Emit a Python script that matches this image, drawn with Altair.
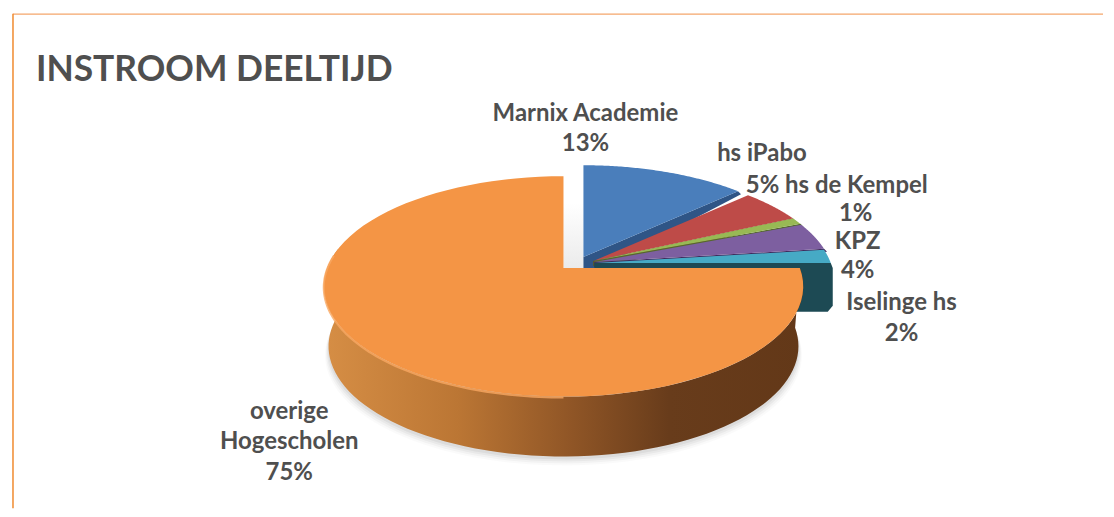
import numpy as np
import pandas as pd
import altair as alt

# ---- data ----
categories = ["Marnix Academie", "hs iPabo", "hs de Kempel", "KPZ", "Iselinge hs", "overige Hogescholen"]
shares = [13, 5, 1, 4, 2, 75]
title_text = "INSTROOM DEELTIJD"
label_texts = ["Marnix Academie", "13%", "hs iPabo", "5% hs de Kempel", "1%", "KPZ", "4%",
               "Iselinge hs", "2%", "overige", "Hogescholen", "75%"]

# ---- style / layout ----
top_colors = ["#4a7ebb", "#be4b48", "#98b954", "#7d5fa0", "#46aac5", "#f49545"]
wall_colors = ["#2f5586", "#5e2523", "#55692c", "#3f2a5c", "#1d4a54"]
apex_x = [585, 595, 595, 596, 596]
apex_y = [257, 261, 261, 262, 263]
wall_depth = [14, 5, 5, 5, 49]
label_x = [587, 587, 764, 839, 858, 860, 860, 904, 904, 290, 290, 290]
label_y = [114, 144, 154, 186, 214, 242, 271, 303, 334, 412, 443, 474]
TEXT = "#4f4f4f"
FONT = "Lato"
R, S, K = 237.0, 107.4, 0.1674
CX, CY, DEPTH = 565.0, 268.0, 60.0

X = alt.X("x:Q", scale=alt.Scale(domain=[8, 1106], nice=False, zero=False), axis=None)
Y = alt.Y("y:Q", scale=alt.Scale(domain=[509, 8], nice=False, zero=False), axis=None)


def rim(ax, ay, a, b, r=R, n=80):
    """Points of the tilted circle between pie fractions a and b, with the perspective of the picture."""
    phi = 2 * np.pi * np.linspace(a, b, n)
    u, v = np.sin(phi), -np.cos(phi)
    w = 1 - K * v
    return ax + r * u / w, ay + S * v / w


def poly(xs, ys, fill, opacity=1.0):
    df = pd.DataFrame({"x": xs, "y": ys, "i": np.arange(len(xs))})
    return alt.Chart(df).mark_line(fill=fill, stroke="transparent", strokeWidth=0, opacity=opacity).encode(
        x=X, y=Y, order=alt.Order("i:Q"))


def stroke(xs, ys, color, width, opacity=1.0):
    df = pd.DataFrame({"x": xs, "y": ys, "i": np.arange(len(xs))})
    return alt.Chart(df).mark_line(color=color, strokeWidth=width, opacity=opacity).encode(
        x=X, y=Y, order=alt.Order("i:Q"))


layers = []

# page frame
layers.append(stroke(np.array([13, 1106]), np.array([13.5, 13.5]), "#f4a66b", 1.2))
layers.append(stroke(np.array([13, 13]), np.array([13, 509]), "#f08a2e", 1.5))

# soft shadow below the pie
for grow, op in [(7, 0.02), (5, 0.03), (3, 0.04), (1, 0.05)]:
    sx, sy = rim(CX, CY + DEPTH + 2 + grow, 0.25, 0.78, r=R * 0.98 + grow * 0.5)
    layers.append(poly(sx, sy, "#000000", op))

# shaded gap between the big slice and the separated slices
gap_grad = alt.Gradient(gradient="linear", x1=0, y1=0, x2=0, y2=1,
                        stops=[alt.GradientStop(offset=0, color="#ffffff"),
                               alt.GradientStop(offset=1, color="#ebebeb")])
layers.append(poly(np.array([CX, apex_x[0], apex_x[0], CX]),
                   np.array([CY - 65, CY - 65, CY, CY]), gap_grad))

# separated slices: cut face first, then top
cum = np.cumsum([0] + shares) / 100
for k in range(5):
    a, b = cum[k], cum[k + 1]
    ax, ay, d = apex_x[k], apex_y[k], wall_depth[k]
    tx, ty = rim(ax, ay, a, b)
    ex, ey = tx[-1], ty[-1]
    if k == 4:
        layers.append(poly(np.array([ax, ex, ex + 2, ex + 2, ex - 3, ax]),
                           np.array([ay, ey, ey + 5, ey + d - 6, ey + d, ay + d]), wall_colors[k]))
    else:
        layers.append(poly(np.array([ax, ex, ex + 3, ax + 11, ax]),
                           np.array([ay, ey, ey + 3, ay + d, ay + d]), wall_colors[k]))
    layers.append(poly(np.concatenate([[ax], tx]), np.concatenate([[ay], ty]), top_colors[k]))

# big slice: wall with horizontal gradient, then top
side_grad = alt.Gradient(gradient="linear", x1=0, y1=0, x2=1, y2=0,
                         stops=[alt.GradientStop(offset=0, color="#d68e45"),
                                alt.GradientStop(offset=0.28, color="#bb7634"),
                                alt.GradientStop(offset=0.52, color="#8f5526"),
                                alt.GradientStop(offset=0.72, color="#683c1b"),
                                alt.GradientStop(offset=1, color="#633818")])
a, b = cum[5], 1.0
wx1, wy1 = rim(CX, CY, 0.25, 0.78)
wx2, wy2 = rim(CX, CY + DEPTH, 0.25, 0.78, r=R * 0.98)
layers.append(poly(np.concatenate([wx1, wx2[::-1]]), np.concatenate([wy1, wy2[::-1]]), side_grad))

tx, ty = rim(CX, CY, a, b)
layers.append(poly(np.concatenate([[CX], tx]), np.concatenate([[CY], ty]), top_colors[5]))

# lit edge of the big slice
hx, hy = rim(CX, CY, 0.5, 0.77)
layers.append(stroke(hx, hy + 1, "#f9a862", 2, 0.8))

# labels
labels = pd.DataFrame({"x": label_x, "y": label_y, "t": label_texts})
layers.append(alt.Chart(labels).mark_text(font=FONT, fontSize=24, fontWeight="bold", color=TEXT,
                                          align="center", baseline="middle").encode(x=X, y=Y, text="t:N"))
layers.append(alt.Chart(pd.DataFrame({"x": [36], "y": [70], "t": [title_text]})).mark_text(
    font=FONT, fontSize=35.5, fontWeight="bold", color=TEXT, align="left", baseline="middle").encode(x=X, y=Y, text="t:N"))

chart = alt.layer(*layers).properties(width=1098, height=501, padding=0, background="white").configure_view(stroke=None)
chart.save("out.html", embed_options={"renderer": "svg", "actions": False})
